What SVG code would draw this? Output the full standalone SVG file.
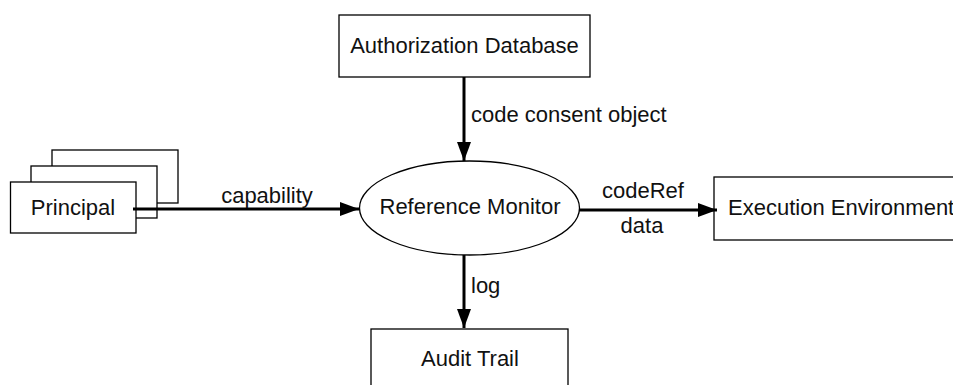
<svg xmlns="http://www.w3.org/2000/svg" width="953" height="385" viewBox="0 0 953 385">
<defs>
<style>
.box{fill:#fff;stroke:#000;stroke-width:1.3}
.lbl{font-family:"Liberation Sans",Arial,sans-serif;font-size:22px;fill:#111}
.conn{stroke:#000;stroke-width:3;fill:none}
</style>
<marker id="arr" markerUnits="userSpaceOnUse" markerWidth="20" markerHeight="15" refX="19" refY="7" orient="auto">
<path d="M0,0 L19,7 L0,14 z" fill="#000"/>
</marker>
</defs>
<rect width="953" height="385" fill="#fff"/>
<g id="principal">
<rect class="box" x="52" y="150" width="126" height="53"/>
<rect class="box" x="31" y="166" width="126" height="52"/>
<rect class="box" x="10.5" y="182" width="125.5" height="51"/>
<text class="lbl" x="73" y="215" text-anchor="middle">Principal</text>
</g>
<g id="authdb">
<rect class="box" x="339" y="15" width="251" height="62"/>
<text class="lbl" x="464.5" y="53" text-anchor="middle">Authorization Database</text>
</g>
<g id="refmon">
<ellipse class="box" cx="469.5" cy="208" rx="110" ry="47"/>
<text class="lbl" x="470" y="214" text-anchor="middle">Reference Monitor</text>
</g>
<g id="execenv">
<rect class="box" x="714" y="177" width="260" height="63"/>
<text class="lbl" x="728" y="215">Execution Environment</text>
</g>
<g id="audit">
<rect class="box" x="371" y="329" width="197" height="70"/>
<text class="lbl" x="470" y="366" text-anchor="middle">Audit Trail</text>
</g>
<g id="connectors">
<line class="conn" x1="133" y1="209" x2="359" y2="209" marker-end="url(#arr)"/>
<text class="lbl" x="267" y="203" text-anchor="middle">capability</text>
<line class="conn" x1="464" y1="77" x2="464" y2="161" marker-end="url(#arr)"/>
<text class="lbl" x="471" y="122">code consent object</text>
<line class="conn" x1="579" y1="210" x2="717" y2="210" marker-end="url(#arr)"/>
<text class="lbl" x="643" y="198" text-anchor="middle">codeRef</text>
<text class="lbl" x="642" y="233" text-anchor="middle">data</text>
<line class="conn" x1="464" y1="255" x2="464" y2="328" marker-end="url(#arr)"/>
<text class="lbl" x="471" y="293">log</text>
</g>
</svg>
